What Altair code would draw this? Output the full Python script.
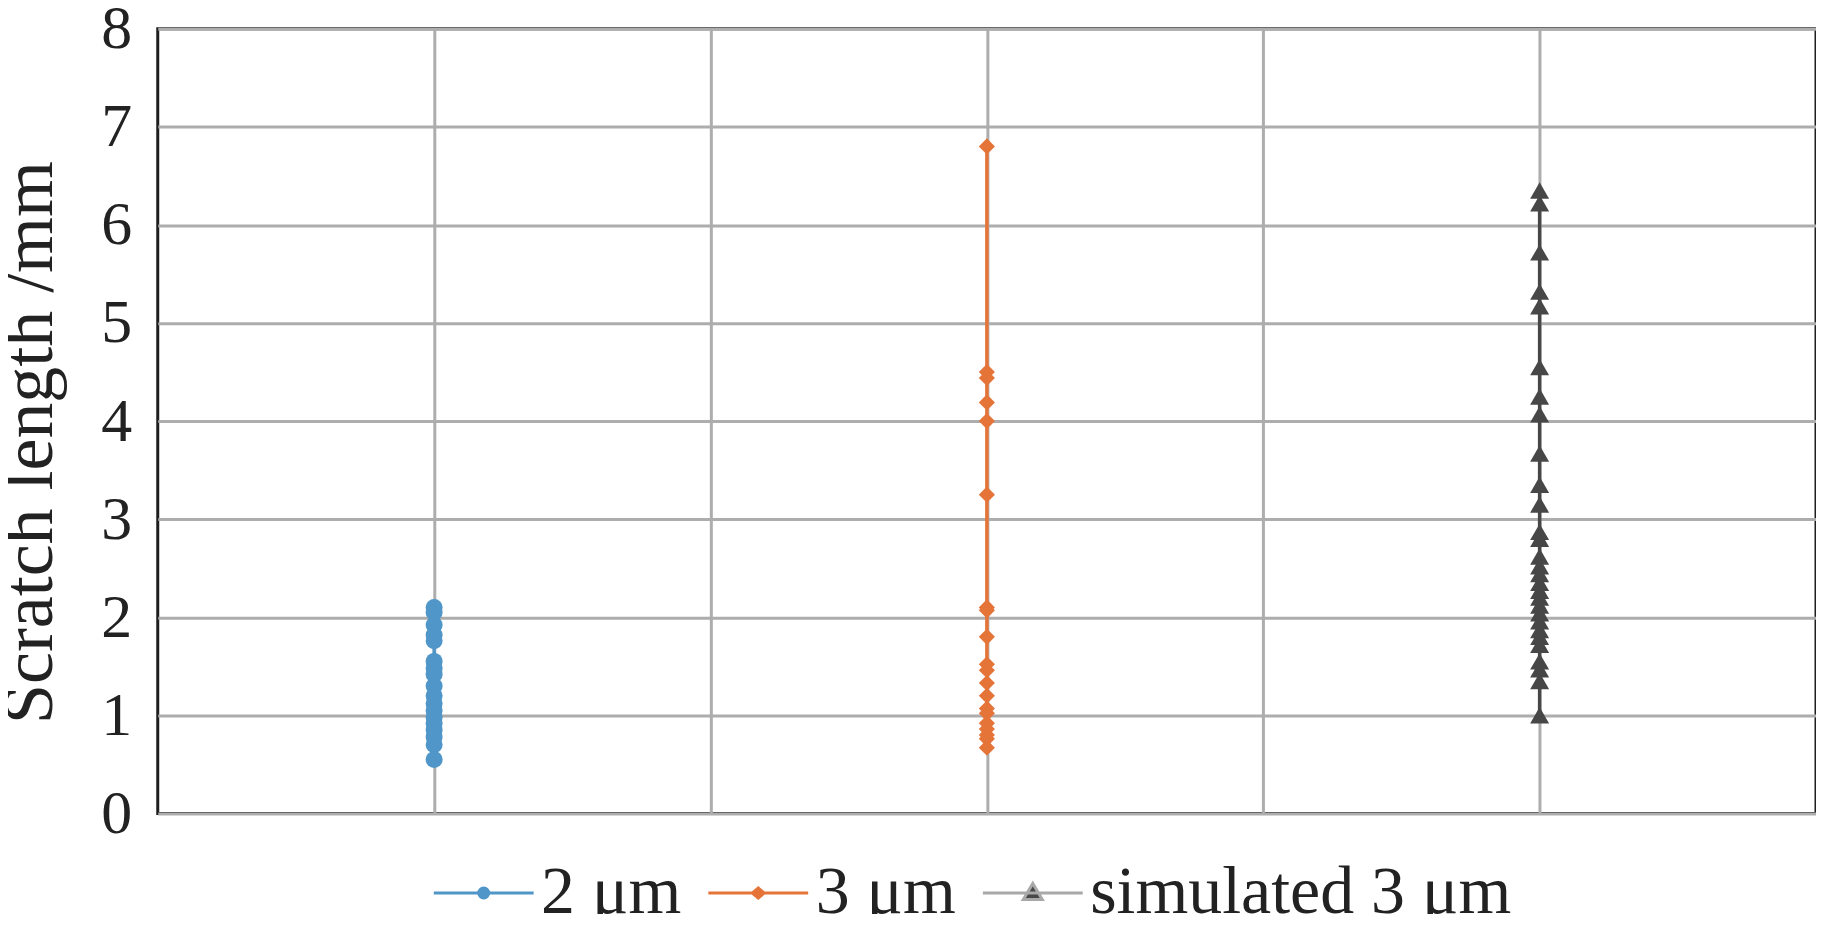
import altair as alt
import pandas as pd

# ---- data ----
series_names = ["2 μm", "3 μm", "simulated 3 μm"]
x_positions = [1, 3, 5]

values_2um = [2.1, 2.05, 1.92, 1.82, 1.76, 1.55, 1.48, 1.42, 1.3, 1.2, 1.12,
              1.05, 0.98, 0.92, 0.85, 0.78, 0.7, 0.55]
values_3um = [6.8, 4.5, 4.44, 4.19, 4.0, 3.25, 2.1, 2.07, 1.8, 1.52, 1.46,
              1.33, 1.2, 1.07, 1.02, 0.92, 0.86, 0.8, 0.76, 0.67]
values_sim = [6.35, 6.22, 5.72, 5.32, 5.17, 4.55, 4.25, 4.07, 3.67, 3.35,
              3.15, 2.87, 2.8, 2.62, 2.52, 2.44, 2.35, 2.27, 2.2, 2.12, 2.04,
              1.96, 1.87, 1.8, 1.72, 1.55, 1.47, 1.35, 1.0]

y_ticks = [0, 1, 2, 3, 4, 5, 6, 7, 8]
x_grid = [1, 2, 3, 4, 5]

line_colors = ["#5096c8", "#e57439", "#474747"]
legend_line_colors = ["#5096c8", "#e57439", "#a8a8a8"]
marker_shapes = ["circle", "diamond", "triangle-up"]
marker_sizes = [290, 262, 361]
# legend symbols: a horizontal line (visible when stroked) plus the marker
legend_paths = [
    "M-1,0H1M-0.1,0A0.1,0.1 0 1,0 0.1,0A0.1,0.1 0 1,0 -0.1,0Z",
    "M-1,0H1M-0.12,0L0,-0.1L0.12,0L0,0.1Z",
    "M-1,0H1M-0.19,0.13L0,-0.19L0.19,0.13Z",
]

rows = []
for name, xp, vals in zip(series_names, x_positions, [values_2um, values_3um, values_sim]):
    for v in vals:
        rows.append({"series": name, "x": xp, "value": v})
df = pd.DataFrame(rows)

FONT = "Liberation Serif"

x_enc = alt.X("x:Q", scale=alt.Scale(domain=[0, 6], nice=False),
              axis=alt.Axis(values=x_grid, labels=False, ticks=False, domain=False,
                            title=None, grid=True, gridColor="#adadad", gridWidth=3))
y_enc = alt.Y("value:Q", scale=alt.Scale(domain=[0, 8], nice=False),
              axis=alt.Axis(values=y_ticks, ticks=False, domain=False, grid=True,
                            gridColor="#adadad", gridWidth=3,
                            labelFont=FONT, labelFontSize=62, labelColor="#222222",
                            labelPadding=26,
                            title="Scratch length /mm", titleFont=FONT,
                            titleFontSize=72, titleFontWeight="normal",
                            titleColor="#222222", titlePadding=34, titleY=414))

base = alt.Chart(df)

layers = []
for name, col in zip(series_names, line_colors):
    layers.append(
        base.transform_filter(alt.datum.series == name)
        .mark_line(strokeWidth=3.5, color=col)
        .encode(x=x_enc, y=y_enc, order=alt.Order("value:Q"))
    )
for name, col, shp, sz in zip(series_names, line_colors, marker_shapes, marker_sizes):
    layers.append(
        base.transform_filter(alt.datum.series == name)
        .mark_point(filled=True, opacity=1, strokeWidth=0, shape=shp, size=sz, color=col)
        .encode(x=x_enc, y=y_enc)
    )

leg = alt.Legend(orient="none", legendX=275, legendY=814, direction="horizontal",
                 title=None, labelFont=FONT, labelFontSize=68, labelColor="#222222",
                 symbolSize=10000, symbolStrokeWidth=3, labelOffset=6,
                 columnPadding=20, labelLimit=1000, padding=0)

legend_layer = base.transform_filter("false").mark_point(
    filled=True, opacity=1, strokeWidth=3).encode(
    x=x_enc, y=y_enc,
    fill=alt.Fill("series:N", scale=alt.Scale(domain=series_names, range=line_colors), legend=leg),
    stroke=alt.Stroke("series:N", scale=alt.Scale(domain=series_names, range=legend_line_colors), legend=leg),
    shape=alt.Shape("series:N", scale=alt.Scale(domain=series_names, range=legend_paths), legend=leg),
)
layers.append(legend_layer)

chart = alt.layer(*layers).properties(
    width=1661, height=786,
    autosize=alt.AutoSizeParams(type="none"),
    padding={"left": 150, "top": 20, "right": 0, "bottom": 100},
    background="white",
).configure_view(stroke="#1e1e1e", strokeWidth=3)

chart.save("out.html", embed_options={"renderer": "svg", "actions": False})
